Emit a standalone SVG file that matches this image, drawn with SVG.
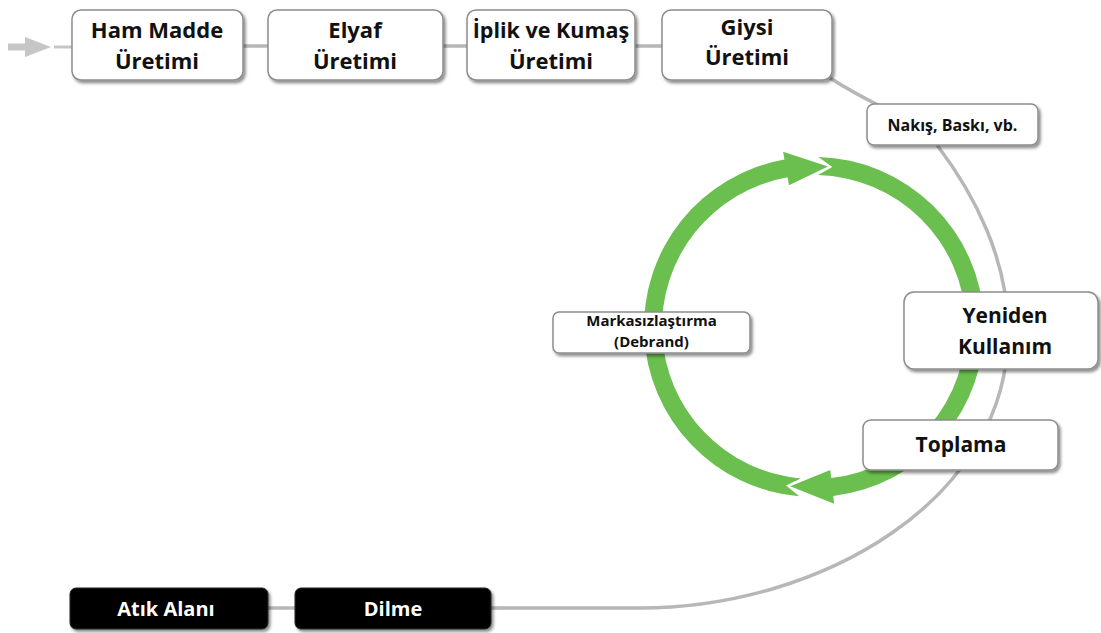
<svg xmlns="http://www.w3.org/2000/svg" width="1101" height="633" viewBox="0 0 1101 633">
<defs>
<filter id="sh" x="-10%" y="-20%" width="125%" height="150%">
<feDropShadow dx="2" dy="2.5" stdDeviation="1.5" flood-color="#000" flood-opacity="0.45"/>
</filter>
<style>
.box{fill:#fff;stroke:#8c8c8c;stroke-width:1.5;filter:url(#sh)}
.dark{fill:#050505;stroke:#222;stroke-width:1;filter:url(#sh)}
.t{font-family:'Open Sans','Liberation Sans',sans-serif;font-weight:700;fill:#111;text-anchor:middle}
.w{fill:#fff}
.con{fill:none;stroke:#b7b7b7;stroke-width:3.5;stroke-linecap:butt}
.grn{fill:#6bbf4e}
</style>
</defs>
<rect width="1101" height="633" fill="#fff"/>
<g id="connectors">
<path d="M8 47 H28" stroke="#c6c6c6" stroke-width="7" fill="none"/>
<polygon points="25,37 51,47 25,57" fill="#c6c6c6"/>
<path d="M54 47 H72" stroke="#c6c6c6" stroke-width="3" fill="none"/>
<path class="con" d="M243 46 H268 M443 46 H467 M635 46 H662"/>
<path class="con" d="M830 78 Q852 92 880 106"/>
<path class="con" d="M937 145 C975 195 1008 260 1008 330 C1010 500 820 608 640 608 L491 608"/>
<path class="con" d="M268 608 H295"/>
</g>
<g id="cycle">
<path class="grn" d="M818.45 157.06 A170 170 0 0 1 833.24 495.91 L834.15 503.86 L790.2 486.23 L830.3 470.07 L831.21 478.02 A152 152 0 0 0 817.98 175.05 L832.23 167.04 Z"/>
<path class="grn" d="M799.18 496.35 A170 170 0 0 1 784.48 159.58 L783.09 151.7 L828.03 166.61 L788.99 185.19 L787.61 177.31 A152 152 0 0 0 800.75 478.42 L786.04 485.55 Z"/>
</g>
<g id="ham-madde">
<rect class="box" x="72" y="10" width="171" height="70" rx="9"/>
<text class="t" x="157" y="38" font-size="22">Ham Madde</text>
<text class="t" x="157" y="69" font-size="22">Üretimi</text>
</g>
<g id="elyaf">
<rect class="box" x="268" y="10" width="175" height="70" rx="9"/>
<text class="t" x="355" y="38" font-size="22">Elyaf</text>
<text class="t" x="355" y="69" font-size="22">Üretimi</text>
</g>
<g id="iplik">
<rect class="box" x="467" y="10" width="168" height="70" rx="9"/>
<text class="t" x="551" y="38" font-size="21.5">İplik ve Kumaş</text>
<text class="t" x="551" y="69" font-size="22">Üretimi</text>
</g>
<g id="giysi">
<rect class="box" x="662" y="10" width="170" height="70" rx="9"/>
<text class="t" x="747" y="35" font-size="22">Giysi</text>
<text class="t" x="747" y="65" font-size="22">Üretimi</text>
</g>
<g id="nakis">
<rect class="box" x="867" y="104" width="171" height="41" rx="7"/>
<text class="t" x="952.5" y="131" font-size="16">Nakış, Baskı, vb.</text>
</g>
<g id="markasizlastirma">
<rect class="box" x="553" y="312" width="197" height="41" rx="6"/>
<text class="t" x="651.5" y="326" font-size="15">Markasızlaştırma</text>
<text class="t" x="651.5" y="347" font-size="15">(Debrand)</text>
</g>
<g id="yeniden">
<rect class="box" x="904" y="292" width="194" height="77" rx="10"/>
<text class="t" x="1005" y="323" font-size="21">Yeniden</text>
<text class="t" x="1005" y="354" font-size="21">Kullanım</text>
</g>
<g id="toplama">
<rect class="box" x="863" y="420" width="195" height="50" rx="8"/>
<text class="t" x="961" y="452" font-size="21">Toplama</text>
</g>
<g id="atik-alani">
<rect class="dark" x="70" y="588" width="198" height="41" rx="6"/>
<text class="t w" x="166" y="616" font-size="20">Atık Alanı</text>
</g>
<g id="dilme">
<rect class="dark" x="295" y="588" width="196" height="41" rx="6"/>
<text class="t w" x="393" y="616" font-size="20">Dilme</text>
</g>
</svg>
